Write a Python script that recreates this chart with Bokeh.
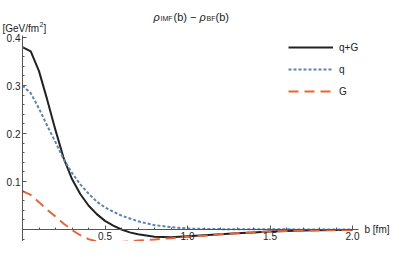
from bokeh.plotting import figure
from bokeh.models import (Range1d, FixedTicker, Label, Legend, LegendItem, LinearAxis)
from bokeh.embed import file_html
from bokeh.resources import INLINE

# ---- data ----
b = [0.0, 0.05, 0.1, 0.15, 0.2, 0.25, 0.3, 0.35, 0.4, 0.45, 0.5, 0.55, 0.6, 0.65,
     0.7, 0.8, 0.9, 1.0, 1.1, 1.2, 1.3, 1.4, 1.5, 1.6, 1.7, 1.8, 1.9, 2.0]
q_plus_G = [0.380, 0.371, 0.330, 0.270, 0.207, 0.148, 0.105, 0.074, 0.050, 0.032,
            0.018, 0.008, 0.000, -0.006, -0.010, -0.015, -0.016, -0.014, -0.012,
            -0.010, -0.008, -0.006, -0.004, -0.003, -0.002, -0.0015, -0.001, -0.0008]
q = [0.300, 0.284, 0.252, 0.216, 0.182, 0.146, 0.118, 0.094, 0.075, 0.058, 0.046,
     0.037, 0.029, 0.023, 0.017, 0.009, 0.005, 0.002, 0.0012, 0.0008, 0.0006,
     0.0005, 0.0004, 0.0003, 0.0002, 0.0002, 0.0001, 0.0001]
G = [0.080, 0.072, 0.057, 0.041, 0.027, 0.012, -0.001, -0.012, -0.020, -0.025,
     -0.027, -0.027, -0.026, -0.025, -0.023, -0.021, -0.018, -0.015, -0.013,
     -0.010, -0.008, -0.006, -0.004, -0.003, -0.002, -0.0015, -0.001, -0.0008]

series_names = ["q+G", "q", "G"]
x_ticks = [0.5, 1.0, 1.5, 2.0]
x_tick_labels = ["0.5", "1.0", "1.5", "2.0"]
x_minor = [0.1, 0.2, 0.3, 0.4, 0.6, 0.7, 0.8, 0.9, 1.1, 1.2, 1.3, 1.4, 1.6, 1.7, 1.8, 1.9]
y_ticks = [0.1, 0.2, 0.3, 0.4]
y_tick_labels = ["0.1", "0.2", "0.3", "0.4"]
y_minor = [-0.04, -0.02, 0.02, 0.04, 0.06, 0.08, 0.12, 0.14, 0.16, 0.18,
           0.22, 0.24, 0.26, 0.28, 0.32, 0.34, 0.36, 0.38]

# ---- layout (canvas pixels) ----
W, H = 391, 241
X0_PX, PX_PER_X = 22, 165.0      # canvas x of b=0, px per fm
Y0_PX, PX_PER_Y = 229, 480.0     # canvas y (from top) of value 0, px per unit


def px_x(px):
    return (px - X0_PX) / PX_PER_X


def px_y(py):
    return (Y0_PX - py) / PX_PER_Y


FONT = "Liberation Sans"
AXIS_COLOR = "#555555"
TEXT_COLOR = "#222222"

p = figure(width=W, height=H, output_backend="svg", toolbar_location=None,
           x_range=Range1d(px_x(0), px_x(W)), y_range=Range1d(px_y(H), px_y(0)),
           x_axis_location=None, y_axis_location=None,
           min_border=0, min_border_left=0, min_border_right=0,
           min_border_top=0, min_border_bottom=0)
p.outline_line_color = None
p.grid.visible = False
p.background_fill_color = "white"

xaxis = LinearAxis(fixed_location=0, bounds=(0, 2.035),
                   ticker=FixedTicker(ticks=x_ticks, minor_ticks=x_minor),
                   major_label_overrides=dict(zip(x_ticks, x_tick_labels)))
yaxis = LinearAxis(fixed_location=0, bounds=(-0.05, 0.405),
                   ticker=FixedTicker(ticks=y_ticks, minor_ticks=y_minor),
                   major_label_overrides=dict(zip(y_ticks, y_tick_labels)))
for ax in (xaxis, yaxis):
    ax.axis_line_color = AXIS_COLOR
    ax.axis_line_width = 1
    ax.major_tick_line_color = AXIS_COLOR
    ax.minor_tick_line_color = AXIS_COLOR
    ax.major_tick_in = 4
    ax.major_tick_out = 0
    ax.minor_tick_in = 2
    ax.minor_tick_out = 0
    ax.major_label_text_font = FONT
    ax.major_label_text_font_size = "10px"
    ax.major_label_text_color = TEXT_COLOR
    ax.major_label_standoff = 2
p.add_layout(xaxis, "below")
p.add_layout(yaxis, "left")

r_qg = p.line(b, q_plus_G, line_color="#222222", line_width=2)
r_q = p.line(b, q, line_color="#5E81B5", line_width=2, line_dash="3 2")
r_g = p.line(b, G, line_color="#EB6235", line_width=2, line_dash="10 6")

legend = Legend(items=[LegendItem(label=series_names[0], renderers=[r_qg]),
                       LegendItem(label=series_names[1], renderers=[r_q]),
                       LegendItem(label=series_names[2], renderers=[r_g])],
                location=(288, H - 102), glyph_width=45, glyph_height=22,
                label_height=22, spacing=0, padding=0, margin=0,
                label_standoff=6, border_line_color=None,
                background_fill_alpha=0, label_text_font=FONT,
                label_text_font_size="10px", label_text_color=TEXT_COLOR)
p.add_layout(legend, "center")


def add_text(px, py, text, size="10px", style="normal", baseline="alphabetic"):
    p.add_layout(Label(x=px_x(px), y=px_y(py), text=text, text_font=FONT,
                       text_font_size=size, text_font_style=style,
                       text_color=TEXT_COLOR, text_align="left",
                       text_baseline=baseline))


# y-axis unit label  [GeV/fm^2]
add_text(2, 28, "[GeV/fm")
add_text(39, 24, "2", size="7px")
add_text(43, 28, "]")
# x-axis label
add_text(364, Y0_PX, "b [fm]", baseline="middle")

# title: rho_IMF(b) - rho_BF(b)
add_text(153, 16, "ρ", size="11px", style="italic")
add_text(160, 18, "IMF", size="7px")
add_text(173, 16, "(b) −", size="11px")
add_text(199, 16, "ρ", size="11px", style="italic")
add_text(206, 18, "BF", size="7px")
add_text(215, 16, "(b)", size="11px")

open("out.html", "w").write(file_html(p, INLINE))
